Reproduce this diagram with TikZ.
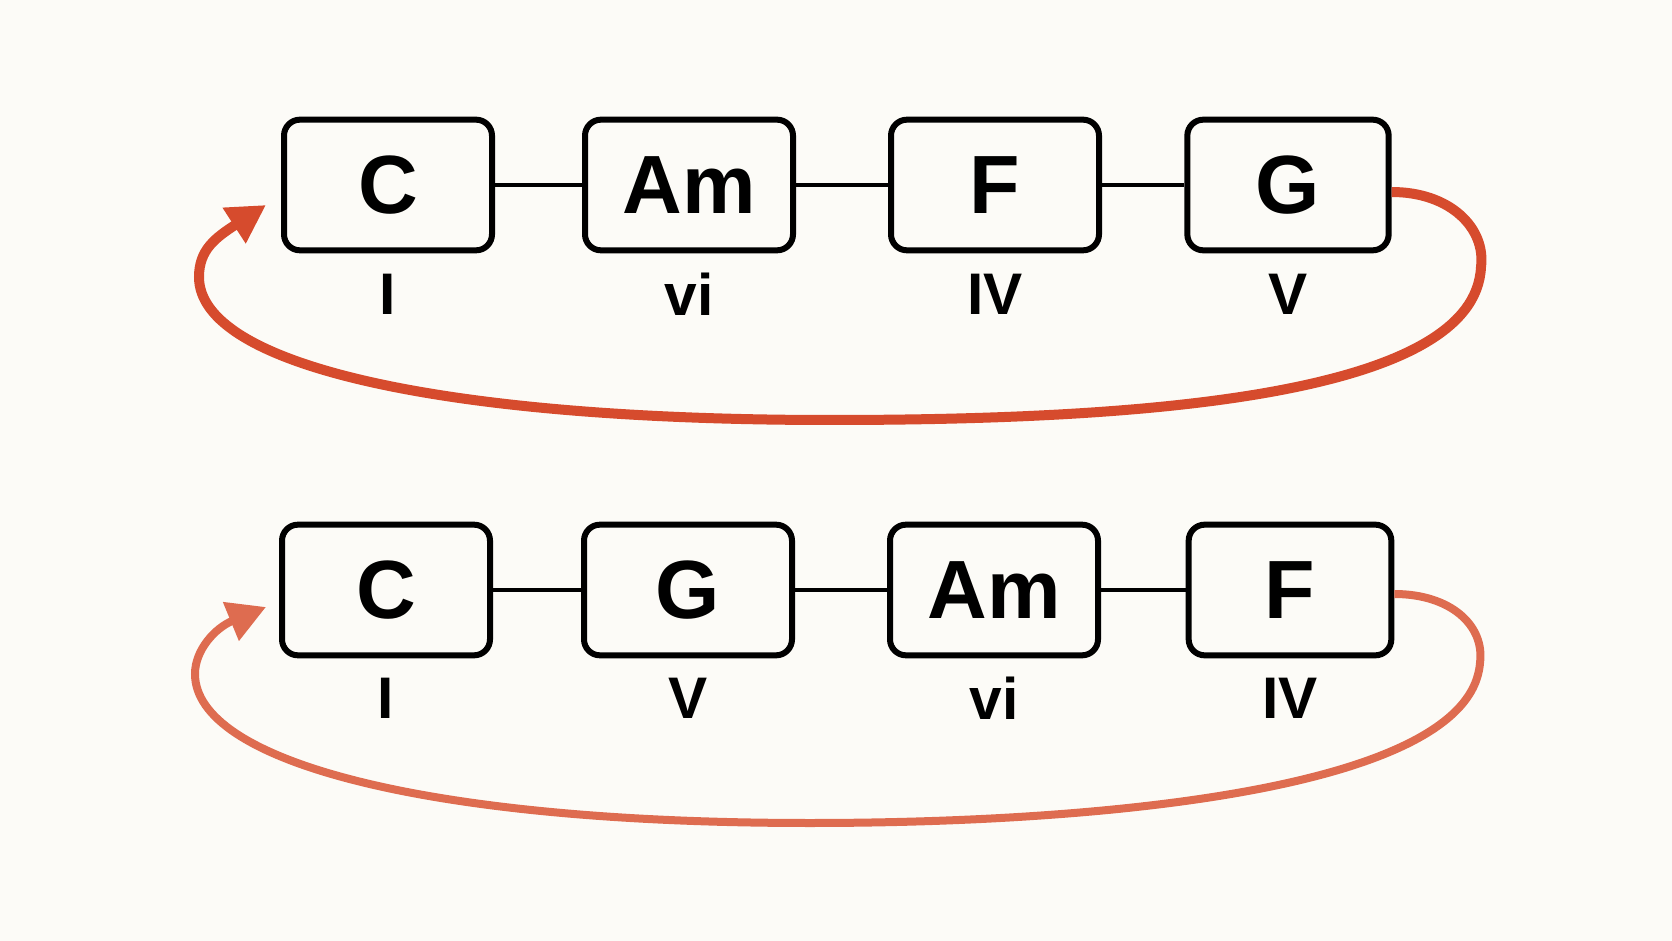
\documentclass[tikz,border=0pt]{standalone}
\usepackage{fontspec}
\setmainfont{Liberation Sans}
\usetikzlibrary{arrows.meta}

\definecolor{paper}{RGB}{252,251,247}
\definecolor{loopred}{RGB}{214,75,45}
\definecolor{looplight}{RGB}{222,108,80}

\tikzset{
    chordbox/.style={draw=black, line width=4.5pt, rounded corners=12pt,
        minimum width=156pt, minimum height=98pt, inner sep=0pt,
        font=\fontsize{62}{64}\selectfont\bfseries},
    degree/.style={inner sep=0pt, font=\fontsize{44}{46}\selectfont\bfseries},
    link/.style={line width=3.4pt},
}

\begin{document}
\begin{tikzpicture}[x=0.75pt,y=0.75pt,yscale=-1,xscale=1]

            \fill[paper] (0,0) rectangle (1672,941);
            \useasboundingbox (0,0) rectangle (1672,941);

            % First progression: C Am F G
            \node[chordbox] (C1)  at (388,185) {C};
            \node[chordbox] (Am1) at (689,185) {Am};
            \node[chordbox] (F1)  at (995,185) {F};
            \node[chordbox, minimum width=151pt] (G1) at (1288,185) {G};

            \node[degree] (dC1)  at (388,294) {I};
            \node[degree] (dAm1) at (689,294) {vi};
            \node[degree] (dF1)  at (995,294) {IV};
            \node[degree] (dG1)  at (1288,294) {V};

            \draw[link] (C1) -- (Am1);
            \draw[link] (Am1) -- (F1);
            \draw[link] (F1) -- (G1);

            % Loop back to the start
            \coordinate (tip1) at (266,205);
            \draw[loopred, line width=7.5pt, -{Triangle[length=28.5pt, width=30pt]}]
                ([yshift=5.25pt]G1.east) .. controls (1450,192) and (1486,228) .. (1481,267)
                .. controls (1475,395) and (1150,420) .. (830,420)
                .. controls (440,420) and (199,365) .. (199,277)
                .. controls (199,250) and (215,238) .. (tip1);

            % Second progression: C G Am F
            \node[chordbox] (C2)  at (386,590) {C};
            \node[chordbox] (G2)  at (688,590) {G};
            \node[chordbox] (Am2) at (994,590) {Am};
            \node[chordbox, minimum width=152pt] (F2) at (1290,590) {F};

            \node[degree] (dC2)  at (386,698) {I};
            \node[degree] (dG2)  at (688,698) {V};
            \node[degree] (dAm2) at (994,698) {vi};
            \node[degree] (dF2)  at (1290,698) {IV};

            \draw[link] (C2) -- (G2);
            \draw[link] (G2) -- (Am2);
            \draw[link] (Am2) -- (F2);

            % Loop back to the start
            \coordinate (tip2) at (266,607);
            \draw[looplight, line width=6pt, -{Triangle[length=28.5pt, width=30pt]}]
                ([yshift=3pt]F2.east) .. controls (1450,594) and (1485,625) .. (1480,663)
                .. controls (1470,790) and (1100,823) .. (810,823)
                .. controls (420,823) and (195,760) .. (195,674)
                .. controls (195,650) and (215,628) .. (tip2);

\end{tikzpicture}
\end{document}
